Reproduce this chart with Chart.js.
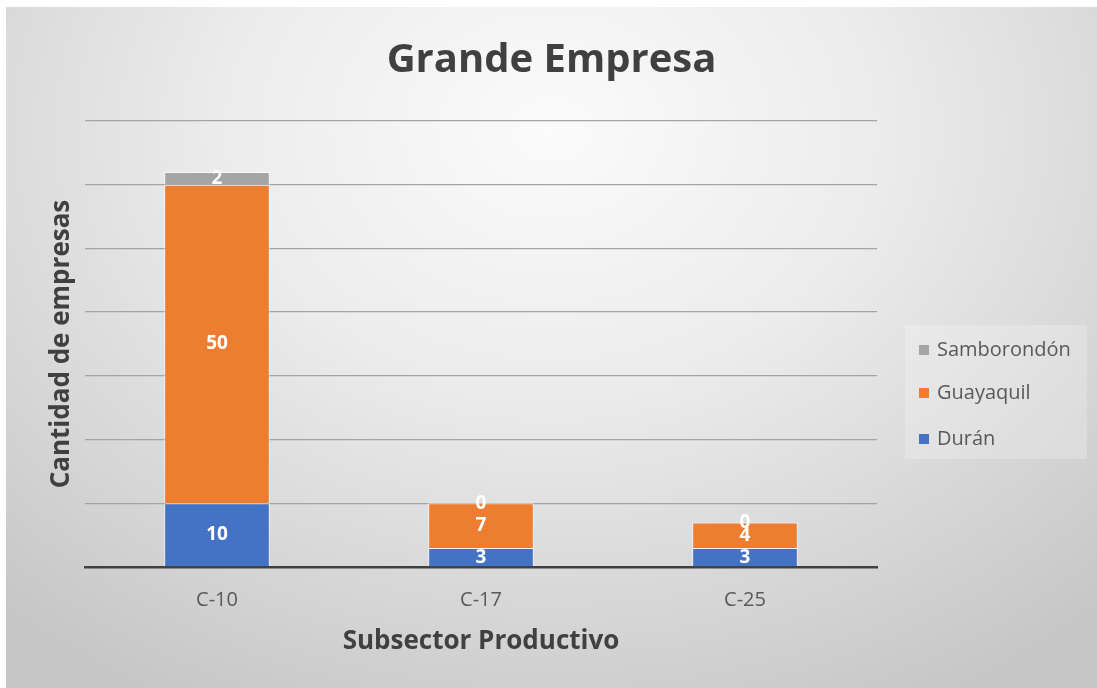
<!DOCTYPE html>
<html lang="es">
<head>
<meta charset="utf-8">
<title>Grande Empresa</title>
<script src="https://cdn.jsdelivr.net/npm/chart.js@4.4.1/dist/chart.umd.min.js"></script>
<style>
  html, body { margin: 0; padding: 0; background: #fff; }
  #marco {
    position: absolute; left: 6px; top: 7px; width: 1091px; height: 681px;
    background: radial-gradient(ellipse 75% 95% at 50% 18%, #fbfbfb 0%, #ececec 40%, #d6d6d6 75%, #c6c6c6 100%);
  }
  #grafico { position: absolute; left: 0; top: 0; }
  #leyenda {
    position: absolute; left: 899px; top: 318px; width: 182px; height: 134px;
    background: rgba(255,255,255,0.22);
    font-family: "Open Sans", sans-serif; font-size: 20px; color: #595959;
  }
  #leyenda div { position: absolute; left: 14px; height: 28px; line-height: 28px; white-space: nowrap; }
  #leyenda span { display: inline-block; width: 10px; height: 10px; margin-right: 8px; vertical-align: 1px; }
</style>
</head>
<body>
<div id="marco">
  <canvas id="grafico" width="1091" height="681"></canvas>
  <div id="leyenda"></div>
</div>
<script>
const categorias = ['C-10', 'C-17', 'C-25'];
const duran = [10, 3, 3];
const guayaquil = [50, 7, 4];
const samborondon = [2, 0, 0];
const ticksY = [0, 10, 20, 30, 40, 50, 60, 70];

const colores = { duran: '#4472C4', guayaquil: '#ED7D31', samborondon: '#A5A5A5' };
const fuente = '"Open Sans", sans-serif';

// etiquetas blancas centradas en cada segmento
const etiquetas = {
  id: 'etiquetas',
  afterDatasetsDraw(chart) {
    const ctx = chart.ctx;
    ctx.save();
    ctx.fillStyle = '#ffffff';
    ctx.font = 'bold 19px ' + fuente;
    ctx.textAlign = 'center';
    ctx.textBaseline = 'middle';
    chart.data.datasets.forEach((ds, i) => {
      chart.getDatasetMeta(i).data.forEach((bar, j) => {
        const y = (bar.y + bar.base) / 2;
        ctx.fillText(String(ds.data[j]), bar.x, y);
      });
    });
    ctx.restore();
  }
};

const datos = {
  labels: categorias,
  datasets: [
    { label: 'Durán', data: duran, backgroundColor: colores.duran },
    { label: 'Guayaquil', data: guayaquil, backgroundColor: colores.guayaquil },
    { label: 'Samborondón', data: samborondon, backgroundColor: colores.samborondon }
  ]
};
datos.datasets.forEach(ds => {
  ds.borderColor = 'rgba(255,255,255,0.65)';
  ds.borderWidth = 1;
  ds.barPercentage = 0.4;
  ds.categoryPercentage = 1;
});

const chart = new Chart(document.getElementById('grafico'), {
  type: 'bar',
  data: datos,
  plugins: [etiquetas],
  options: {
    responsive: false,
    animation: false,
    layout: { padding: 0 },
    plugins: {
      legend: { display: false },
      tooltip: { enabled: false },
      title: {
        display: true,
        text: 'Grande Empresa',
        color: '#404040',
        font: { family: fuente, size: 40, weight: 'bold' },
        padding: { top: 30, bottom: 36 }
      }
    },
    scales: {
      x: {
        stacked: true,
        grid: { display: false, drawTicks: false },
        border: { display: true, color: '#404040', width: 2.5 },
        ticks: { color: '#595959', font: { family: fuente, size: 20 }, padding: 21 },
        title: {
          display: true, text: 'Subsector Productivo', color: '#404040',
          font: { family: fuente, size: 26, weight: 'bold' }, padding: { top: 0, bottom: 31 }
        },
        afterFit: (a) => { a.height = 121; }
      },
      y: {
        stacked: true,
        min: ticksY[0],
        max: ticksY[ticksY.length - 1],
        afterBuildTicks: (a) => { a.ticks = ticksY.map(v => ({ value: v })); },
        ticks: { display: false },
        grid: { color: '#a4a4a4', lineWidth: 1.3, drawTicks: false },
        border: { display: false },
        title: {
          display: true, text: 'Cantidad de empresas', color: '#404040',
          font: { family: fuente, size: 26, weight: 'bold' }, padding: { top: 40, bottom: 0 }
        },
        afterFit: (a) => { a.width = 79; }
      },
      y2: {
        position: 'right',
        display: true,
        ticks: { display: false },
        grid: { display: false, drawTicks: false },
        border: { display: false },
        afterFit: (a) => { a.width = 220; }
      }
    }
  }
});

// leyenda en orden inverso, como en el original
const leyenda = document.getElementById('leyenda');
const posY = [24, 67, 113];
datos.datasets.slice().reverse().forEach((ds, k) => {
  const item = document.createElement('div');
  item.style.top = (posY[k] - 14) + 'px';
  const cuadro = document.createElement('span');
  cuadro.style.background = ds.backgroundColor;
  item.appendChild(cuadro);
  item.appendChild(document.createTextNode(ds.label));
  leyenda.appendChild(item);
});
</script>
</body>
</html>
